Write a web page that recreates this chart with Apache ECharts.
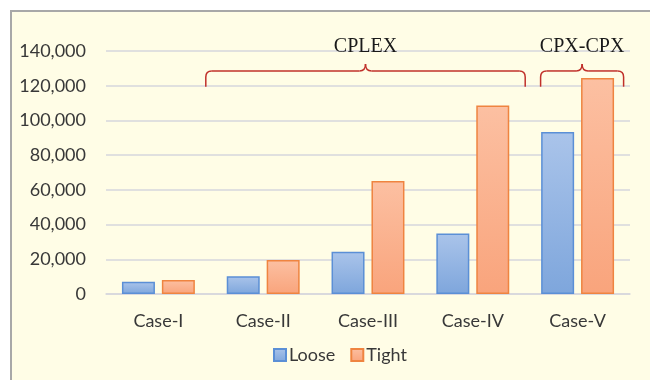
<!DOCTYPE html>
<html>
<head>
<meta charset="utf-8">
<script src="https://cdn.jsdelivr.net/npm/echarts@6/dist/echarts.min.js"></script>
<style>
  html, body { margin: 0; padding: 0; background: #ffffff; }
  #frame { position: absolute; left: 10px; top: 10px; width: 660px; height: 390px;
           background: #fffde6; border-left: 2px solid #a8a8a8; border-top: 2px solid #a8a8a8; }
  #main { position: absolute; left: 0; top: 0; width: 650px; height: 380px; }
</style>
</head>
<body>
<div id="frame"></div>
<div id="main"></div>
<script>
const categories = ['Case-I', 'Case-II', 'Case-III', 'Case-IV', 'Case-V'];
const looseValues = [7000, 10200, 24300, 34900, 93300];
const tightValues = [8100, 19600, 65100, 108600, 124500];
const yTicks = { min: 0, max: 140000, interval: 20000 };
const groups = [
  { label: 'CPLEX', from: 'Case-II', to: 'Case-IV', mode: 'band' },
  { label: 'CPX-CPX', from: 'Case-V', to: 'Case-V', mode: 'bars' }
];

const chart = echarts.init(document.getElementById('main'), null, { renderer: 'canvas' });
const labelFont = 'Lato';
const textColor = '#383838';
const option = {
  backgroundColor: 'transparent',
  animation: false,
  grid: { left: 106, right: 20, top: 51, bottom: 86, containLabel: false },
  legend: {
    data: ['Loose', 'Tight'],
    left: 268, top: 341, icon: 'rect',
    itemWidth: 12, itemHeight: 12, itemGap: 15,
    textStyle: { fontFamily: labelFont, fontSize: 18, color: textColor, padding: [0, 0, 0, -2] }
  },
  xAxis: {
    type: 'category',
    data: categories,
    axisTick: { show: false },
    axisLine: { lineStyle: { color: '#d6d6dc', width: 1.5 } },
    axisLabel: { fontFamily: labelFont, fontSize: 18, color: textColor, margin: 18 }
  },
  yAxis: {
    type: 'value',
    min: yTicks.min, max: yTicks.max, interval: yTicks.interval,
    axisLine: { show: false }, axisTick: { show: false },
    splitLine: { lineStyle: { color: '#d6d6dc', width: 1.5 } },
    axisLabel: {
      fontFamily: labelFont, fontSize: 18, color: textColor, margin: 20,
      formatter: v => v.toLocaleString('en-US')
    }
  },
  series: [
    {
      name: 'Loose', type: 'bar', data: looseValues, barWidth: 33, barGap: '21%',
      itemStyle: {
        color: new echarts.graphic.LinearGradient(0, 0, 0, 1, [
          { offset: 0, color: '#aac4ea' }, { offset: 1, color: '#7ea6dc' }
        ]),
        borderColor: '#5b8fd6', borderWidth: 1.5
      }
    },
    {
      name: 'Tight', type: 'bar', data: tightValues, barWidth: 33,
      itemStyle: {
        color: new echarts.graphic.LinearGradient(0, 0, 0, 1, [
          { offset: 0, color: '#fcc0a2' }, { offset: 1, color: '#f9a47c' }
        ]),
        borderColor: '#ef8440', borderWidth: 1.5
      }
    }
  ]
};
chart.setOption(option);

// Curly-brace group annotations, positioned through the chart's own scales
const braceStyle = { fill: null, stroke: '#c0302a', lineWidth: 1.5 };
function braceParts(x1, x2, yLine, yEnd, yTip, xm) {
  const r = 6;
  const line = (a, b, c, d) => ({ type: 'line', silent: true, shape: { x1: a, y1: b, x2: c, y2: d }, style: braceStyle });
  const curve = (a, b, c, d, cx, cy) => ({ type: 'bezierCurve', silent: true, shape: { x1: a, y1: b, x2: c, y2: d, cpx1: cx, cpy1: cy }, style: braceStyle });
  return [
    line(x1, yEnd, x1, yLine + r),
    curve(x1, yLine + r, x1 + r, yLine, x1, yLine),
    line(x1 + r, yLine, xm - r, yLine),
    curve(xm - r, yLine, xm, yTip, xm, yLine),
    curve(xm, yTip, xm + r, yLine, xm, yLine),
    line(xm + r, yLine, x2 - r, yLine),
    curve(x2 - r, yLine, x2, yLine + r, x2, yLine),
    line(x2, yLine + r, x2, yEnd)
  ];
}
const band = chart.convertToPixel({ xAxisIndex: 0 }, categories[1]) - chart.convertToPixel({ xAxisIndex: 0 }, categories[0]);
const yLine = chart.convertToPixel({ yAxisIndex: 0 }, 128500);
const yEnd = chart.convertToPixel({ yAxisIndex: 0 }, 120000) + 1;
const yTip = yLine - 7;
let graphics = [];
groups.forEach(g => {
  const c1 = chart.convertToPixel({ xAxisIndex: 0 }, g.from);
  const c2 = chart.convertToPixel({ xAxisIndex: 0 }, g.to);
  let x1, x2;
  if (g.mode === 'band') { x1 = c1 - band / 2 - 5; x2 = c2 + band / 2; }
  else { x1 = c1 - 37; x2 = c2 + 46; }
  const xm = (x1 + x2) / 2;
  graphics = graphics.concat(braceParts(x1, x2, yLine, yEnd, yTip, xm));
  graphics.push({
    type: 'text', silent: true, x: xm, y: yTip - 17,
    style: { text: g.label, font: '20px "Liberation Serif"', fill: '#1a1a1a', align: 'center', verticalAlign: 'middle' }
  });
});
chart.setOption({ graphic: graphics });
</script>
</body>
</html>
